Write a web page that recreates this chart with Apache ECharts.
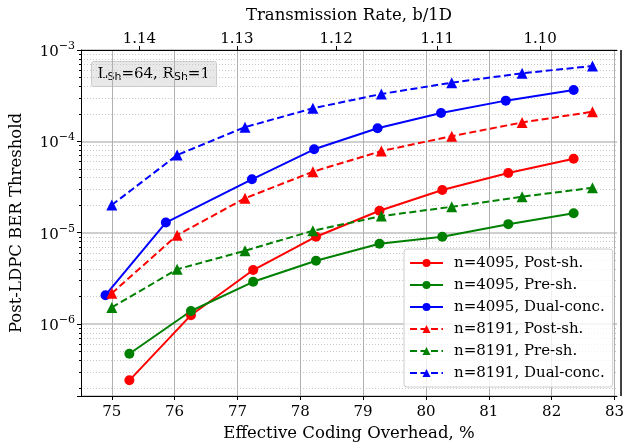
<!DOCTYPE html>
<html>
<head>
<meta charset="utf-8">
<script src="https://cdn.jsdelivr.net/npm/echarts@6/dist/echarts.min.js"></script>
<style>
  html, body { margin: 0; padding: 0; background: #fff; }
  #main-chart { width: 627px; height: 447px; }
</style>
</head>
<body>
<div id="main-chart"></div>
<script>
// overhead (%) per point
var ohCircle = [75.28, 76.26, 77.25, 78.25, 79.26, 80.26, 81.31, 82.35];
var ohDualCircle = [74.90, 75.86, 77.23, 78.22, 79.23, 80.24, 81.27, 82.35];
var ohTriangle = [75.00, 76.04, 77.12, 78.20, 79.29, 80.41, 81.53, 82.65];

// BER thresholds
var post4095 = [2.42e-7, 1.25e-6, 3.90e-6, 9.03e-6, 1.74e-5, 2.93e-5, 4.50e-5, 6.46e-5];
var pre4095 = [4.73e-7, 1.39e-6, 2.90e-6, 4.93e-6, 7.57e-6, 9.03e-6, 1.24e-5, 1.63e-5];
var dual4095 = [2.07e-6, 1.29e-5, 3.84e-5, 8.18e-5, 1.39e-4, 2.04e-4, 2.79e-4, 3.65e-4];
var post8191 = [2.17e-6, 9.40e-6, 2.38e-5, 4.65e-5, 7.83e-5, 1.14e-4, 1.61e-4, 2.11e-4];
var pre8191 = [1.52e-6, 3.97e-6, 6.34e-6, 1.05e-5, 1.52e-5, 1.92e-5, 2.48e-5, 3.10e-5];
var dual8191 = [2.01e-5, 7.08e-5, 1.43e-4, 2.30e-4, 3.30e-4, 4.39e-4, 5.56e-4, 6.68e-4];

// top axis: transmission rate = 2 / (1 + OH/100)
var rateTicks = [1.14, 1.13, 1.12, 1.11, 1.10];
var xTicks = [75, 76, 77, 78, 79, 80, 81, 82, 83];

function zip(xs, ys) {
    return xs.map(function (x, i) { return [x, ys[i]]; });
}

var serif = 'DejaVu Serif';
var xMin = 74.51, xMax = 83.04;
var rateAt = rateTicks.map(function (r) { return (2 / r - 1) * 100; });

function mkSeries(name, xs, ys, color, dashed) {
    return {
        name: name,
        type: 'line',
        data: zip(xs, ys),
        symbol: dashed ? 'triangle' : 'circle',
        symbolSize: dashed ? 11 : 10,
        itemStyle: { color: color },
        lineStyle: { color: color, width: 2, type: dashed ? [7, 3.5] : 'solid' },
        z: 5
    };
}

var dom = document.getElementById('main-chart');
var myChart = echarts.init(dom);
var option = {
    animation: false,
    grid: { left: 80, right: 6, top: 50, bottom: 51, containLabel: false },
    legend: {
        orient: 'vertical',
        left: 404,
        top: 249,
        padding: [6, 8, 6, 5],
        itemWidth: 33,
        itemHeight: 10,
        itemGap: 6,
        backgroundColor: 'rgba(255,255,255,0.8)',
        borderColor: '#cccccc',
        borderWidth: 1,
        borderRadius: 3,
        textStyle: { fontFamily: serif, fontSize: 15, color: '#000', lineHeight: 16, padding: [0, 0, 0, 6] },
        data: ['n=4095, Post-sh.', 'n=4095, Pre-sh.', 'n=4095, Dual-conc.',
               'n=8191, Post-sh.', 'n=8191, Pre-sh.', 'n=8191, Dual-conc.']
    },
    xAxis: [
        {
            type: 'value',
            min: xMin,
            max: xMax,
            position: 'bottom',
            name: 'Effective Coding Overhead, %',
            nameLocation: 'middle',
            nameGap: 28,
            nameTextStyle: { fontFamily: serif, fontSize: 16.5, color: '#000' },
            axisLine: { onZero: false, lineStyle: { color: '#000', width: 1 } },
            axisTick: { show: true, length: 4, lineStyle: { color: '#000' }, customValues: xTicks },
            axisLabel: { customValues: xTicks, fontFamily: serif, fontSize: 15, color: '#000', margin: 9 },
            splitLine: { show: true, lineStyle: { color: '#b0b0b0', width: 1 } }
        },
        {
            type: 'value',
            min: xMin,
            max: xMax,
            position: 'top',
            name: 'Transmission Rate, b/1D',
            nameLocation: 'middle',
            nameGap: 26,
            nameTextStyle: { fontFamily: serif, fontSize: 16.5, color: '#000' },
            axisLine: { onZero: false, lineStyle: { color: '#000', width: 1 } },
            axisTick: { show: true, length: 4, lineStyle: { color: '#000' }, customValues: rateAt },
            axisLabel: {
                customValues: rateAt,
                fontFamily: serif, fontSize: 15, color: '#000', margin: 3,
                formatter: function (v) { return (2 / (1 + v / 100)).toFixed(2); }
            },
            splitLine: { show: false }
        }
    ],
    yAxis: {
        type: 'log',
        min: 1.63e-7,
        max: 1e-3,
        name: 'Post-LDPC BER Threshold',
        nameLocation: 'middle',
        nameGap: 56,
        nameTextStyle: { fontFamily: serif, fontSize: 16.5, color: '#000' },
        axisLine: { show: true, lineStyle: { color: '#000', width: 1 } },
        axisTick: { show: true, length: 4, lineStyle: { color: '#000' } },
        minorTick: { show: true, splitNumber: 9, length: 2, lineStyle: { color: '#000' } },
        minorSplitLine: { show: true, lineStyle: { color: '#c8c8c8', width: 1, type: [1, 2] } },
        splitLine: { show: true, lineStyle: { color: '#cfcfcf', width: 2 } },
        axisLabel: {
            fontFamily: serif,
            color: '#000',
            margin: 6,
            formatter: function (v) {
                var e = Math.log10(v);
                var r = Math.round(e);
                if (Math.abs(e - r) > 1e-6) return '';
                return '{b|10}{s|\u2212' + Math.abs(r) + '}';
            },
            rich: {
                b: { fontFamily: serif, fontSize: 15, color: '#000', verticalAlign: 'bottom' },
                s: { fontFamily: serif, fontSize: 11, color: '#000', padding: [0, 0, 8, 0] }
            }
        }
    },
    graphic: [
        {
            // right spine
            type: 'rect',
            shape: { x: 621, y: 50, width: 0, height: 346 },
            style: { stroke: '#000', lineWidth: 1, fill: null },
            z: 100
        },
        {
            type: 'group',
            left: 91,
            top: 61,
            z: 50,
            children: [
                {
                    type: 'rect',
                    shape: { x: 0, y: 0, width: 125, height: 25, r: 2 },
                    style: { fill: 'rgba(228,228,228,0.85)', stroke: '#cccccc', lineWidth: 1 }
                },
                {
                    type: 'text',
                    x: 6,
                    y: 12.5,
                    style: {
                        text: 'L{s|Sh}=64, R{s|Sh}=1',
                        fontFamily: serif,
                        fontSize: 15,
                        fill: '#000',
                        verticalAlign: 'middle',
                        rich: {
                            s: { fontFamily: 'DejaVu Sans', fontSize: 11, fill: '#000', padding: [6, 0, 0, 0] }
                        }
                    }
                }
            ]
        }
    ],
    series: [
        mkSeries('n=4095, Post-sh.', ohCircle, post4095, '#ff0000', false),
        mkSeries('n=4095, Pre-sh.', ohCircle, pre4095, '#008000', false),
        mkSeries('n=4095, Dual-conc.', ohDualCircle, dual4095, '#0000ff', false),
        mkSeries('n=8191, Post-sh.', ohTriangle, post8191, '#ff0000', true),
        mkSeries('n=8191, Pre-sh.', ohTriangle, pre8191, '#008000', true),
        mkSeries('n=8191, Dual-conc.', ohTriangle, dual8191, '#0000ff', true)
    ]
};
myChart.setOption(option, true);
</script>
</body>
</html>
